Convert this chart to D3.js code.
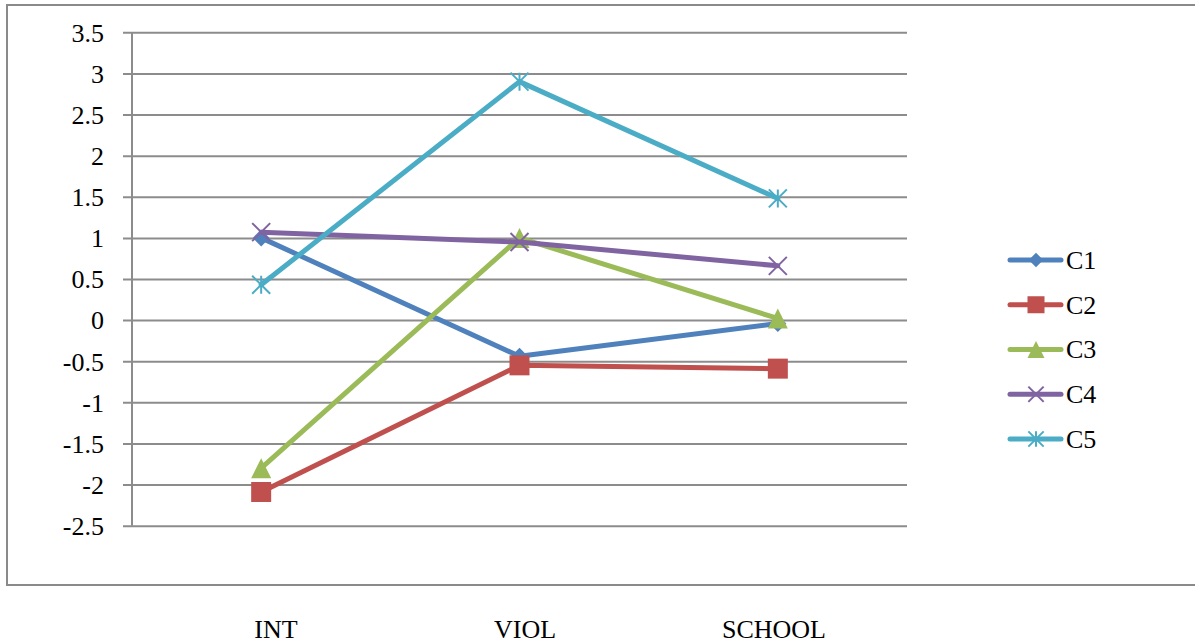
<!DOCTYPE html>
<html>
<head>
<meta charset="utf-8">
<script src="https://cdn.jsdelivr.net/npm/d3@7"></script>
<style>
  html, body { margin: 0; padding: 0; background: #fff; }
  svg { display: block; }
  text { font-family: "Liberation Serif", "Times New Roman", serif; fill: #000; }
</style>
</head>
<body>
<svg id="chart" width="1195" height="643"></svg>
<script>
// Categories and series
const categories = ["INT", "VIOL", "SCHOOL"];
const seriesNames = ["C1", "C2", "C3", "C4", "C5"];
const c1 = [1.0, -0.44, -0.04];
const c2 = [-2.09, -0.55, -0.59];
const c3 = [-1.8, 1.0, 0.02];
const c4 = [1.07, 0.95, 0.66];
const c5 = [0.43, 2.9, 1.48];
const yTicks = [3.5, 3, 2.5, 2, 1.5, 1, 0.5, 0, -0.5, -1, -1.5, -2, -2.5];

const seriesValues = [c1, c2, c3, c4, c5];
const colors = ["#4F81BD", "#C0504D", "#9BBB59", "#8064A2", "#4BACC6"];
const markers = ["diamond", "square", "triangle", "x", "star"];

const svg = d3.select("#chart");

// Outer chart border
svg.append("rect")
  .attr("x", 7).attr("y", 5).attr("width", 1195).attr("height", 580)
  .attr("fill", "none").attr("stroke", "#8a8a8a").attr("stroke-width", 2);

const plot = { left: 132, right: 907, top: 32.3, bottom: 525.7 };

const x = d3.scaleBand().domain(categories).range([plot.left, plot.right]);
const y = d3.scaleLinear().domain([-2.5, 3.5]).range([plot.bottom, plot.top]);

// Horizontal gridlines with tick labels
const yAxis = d3.axisLeft(y)
  .tickValues(yTicks)
  .tickSize(-(plot.right - plot.left))
  .tickPadding(0);

const gy = svg.append("g")
  .attr("transform", `translate(${plot.left},0)`)
  .call(yAxis);
gy.select(".domain").remove();
gy.selectAll(".tick line")
  .attr("x1", -9)
  .attr("stroke", "#8c8c8c").attr("stroke-width", 2);
gy.selectAll(".tick text")
  .attr("x", -28)
  .attr("dy", "0.34em")
  .attr("font-size", 26)
  .attr("fill", "#000")
  .text(d => d < 0 ? "-" + d3.format("")(-d) : d3.format("")(d));

// Vertical axis line
svg.append("line")
  .attr("x1", plot.left).attr("x2", plot.left)
  .attr("y1", y(3.5)).attr("y2", y(-2.5))
  .attr("stroke", "#8c8c8c").attr("stroke-width", 2);

// Category labels, set below the chart frame
const xLabel = d3.scalePoint().domain(categories).range([276, 774]);
svg.append("g").selectAll("text")
  .data(categories).join("text")
  .attr("x", d => xLabel(d))
  .attr("y", 638)
  .attr("text-anchor", "middle")
  .attr("font-size", 26)
  .text(d => d);

// Marker shapes
function drawMarker(g, type, color, s) {
  if (type === "diamond") {
    g.append("path").attr("d", `M0,${-s/2}L${s/2},0L0,${s/2}L${-s/2},0Z`).attr("fill", color);
  } else if (type === "square") {
    g.append("rect").attr("x", -s/2).attr("y", -s/2).attr("width", s).attr("height", s).attr("fill", color);
  } else if (type === "triangle") {
    g.append("path").attr("d", `M0,${-s/2}L${s/2},${s/2}L${-s/2},${s/2}Z`).attr("fill", color);
  } else if (type === "x") {
    const h = s / 2;
    g.append("path").attr("d", `M${-h},${-h}L${h},${h}M${-h},${h}L${h},${-h}`)
      .attr("stroke", color).attr("stroke-width", 2).attr("fill", "none");
  } else if (type === "star") {
    const h = s / 2;
    g.append("path").attr("d", `M${-h},${-h}L${h},${h}M${-h},${h}L${h},${-h}M0,${-h}L0,${h}`)
      .attr("stroke", color).attr("stroke-width", 2).attr("fill", "none");
  }
}

const markerSize = { diamond: 17, square: 20, triangle: 20, x: 18, star: 18 };

const line = d3.line()
  .x((d, i) => x(categories[i]) + x.bandwidth() / 2)
  .y(d => y(d));

seriesValues.forEach((vals, si) => {
  const g = svg.append("g");
  g.append("path")
    .attr("d", line(vals))
    .attr("fill", "none")
    .attr("stroke", colors[si])
    .attr("stroke-width", 5)
    .attr("stroke-linejoin", "round")
    .attr("stroke-linecap", "round");
  vals.forEach((v, i) => {
    const m = g.append("g")
      .attr("transform", `translate(${x(categories[i]) + x.bandwidth() / 2},${y(v)})`);
    drawMarker(m, markers[si], colors[si], markerSize[markers[si]]);
  });
});

// Legend
const legendY = d3.scalePoint().domain(seriesNames).range([260, 439]);
seriesNames.forEach((name, si) => {
  const ly = legendY(name);
  const g = svg.append("g");
  g.append("line")
    .attr("x1", 1010).attr("x2", 1061).attr("y1", ly).attr("y2", ly)
    .attr("stroke", colors[si]).attr("stroke-width", 5).attr("stroke-linecap", "round");
  const m = g.append("g").attr("transform", `translate(1036,${ly})`);
  drawMarker(m, markers[si], colors[si], markerSize[markers[si]] * 0.85);
  g.append("text")
    .attr("x", 1066).attr("y", ly).attr("dy", "0.34em")
    .attr("font-size", 26)
    .text(name);
});
</script>
</body>
</html>
